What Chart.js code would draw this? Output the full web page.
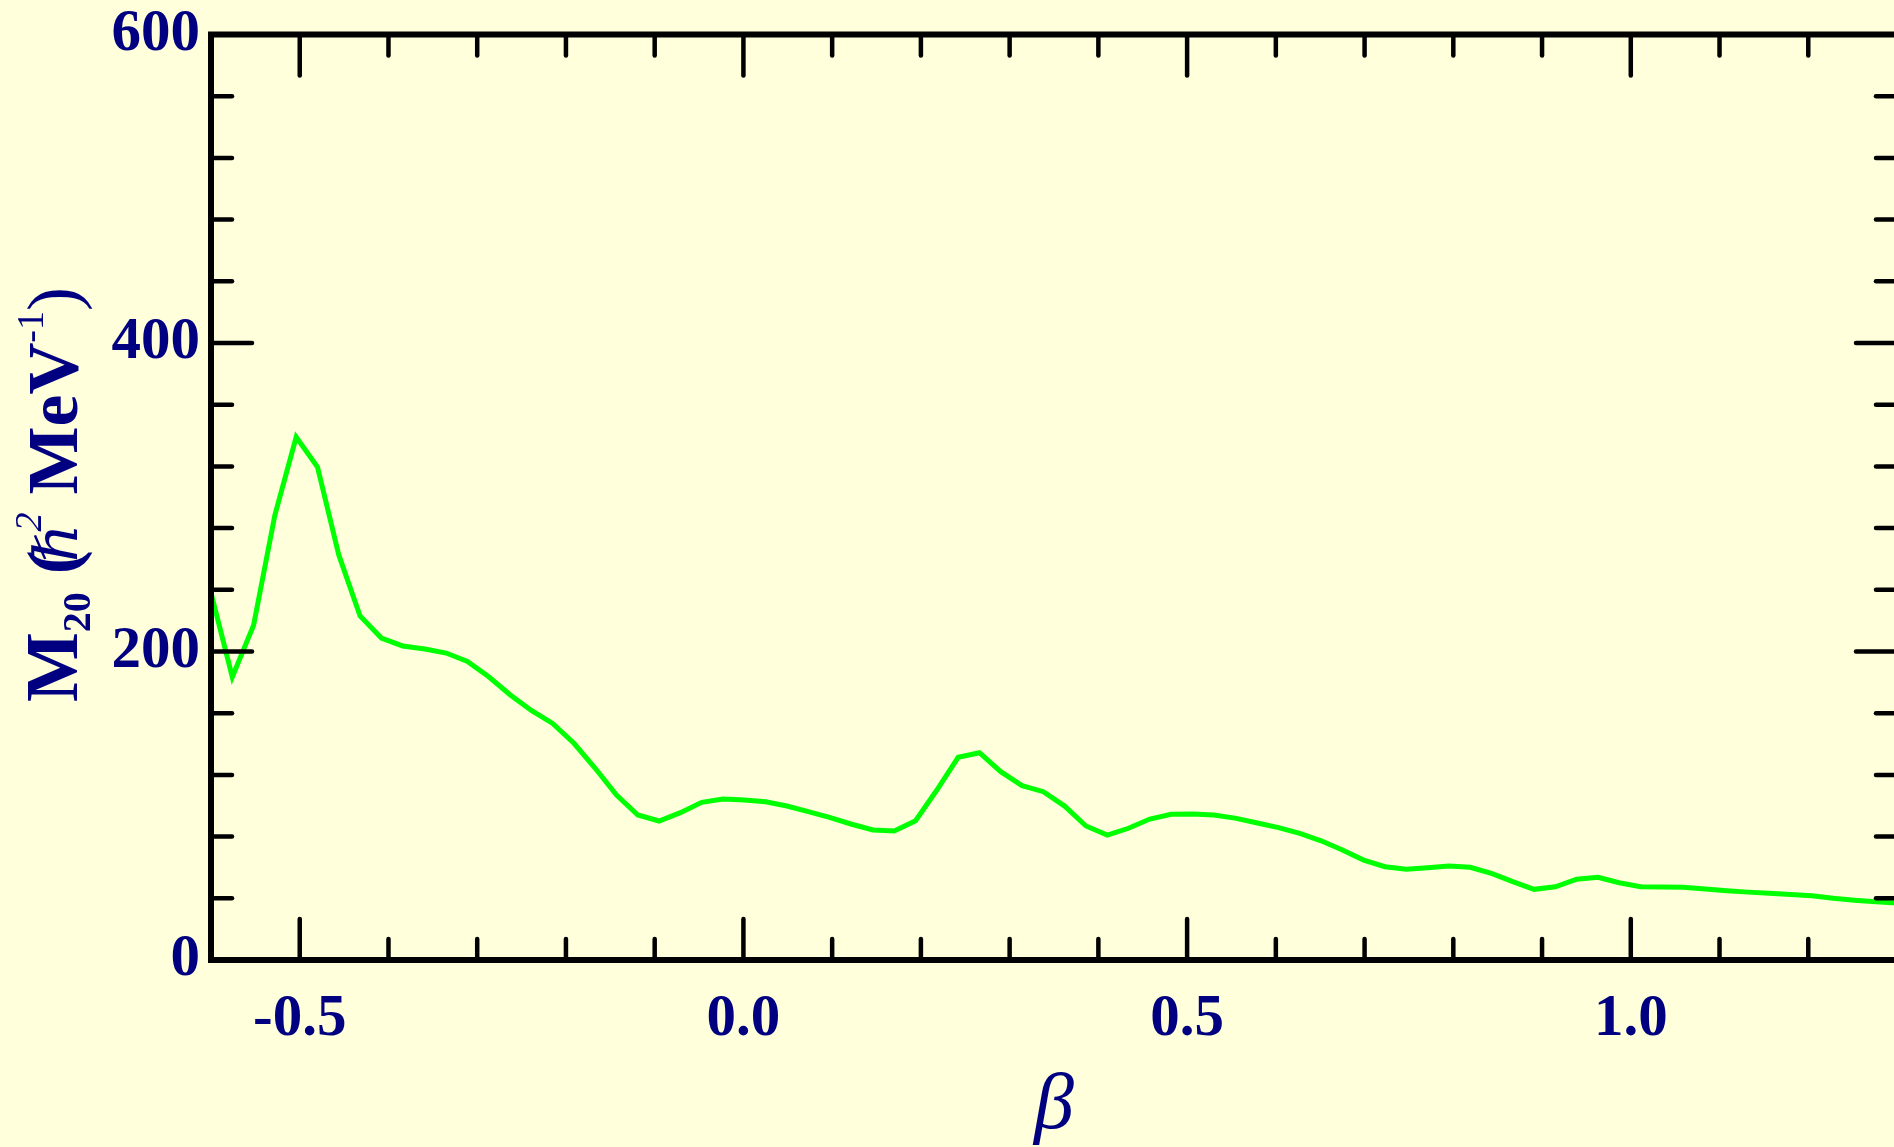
<!DOCTYPE html>
<html>
<head>
<meta charset="utf-8">
<script src="https://cdn.jsdelivr.net/npm/chart.js@4.4.0/dist/chart.umd.min.js"></script>
<style>
  html, body { margin: 0; padding: 0; overflow: hidden; background: #ffffdc; }
  #m20Chart { display: block; width: 1900px; height: 1147px; }
</style>
</head>
<body>
<canvas id="m20Chart" width="1900" height="1147"></canvas>
<script>
// beta (deformation) values
var betaValues = [
  -0.600, -0.576, -0.552, -0.528, -0.504, -0.480, -0.456, -0.432, -0.408, -0.384,
  -0.359, -0.335, -0.311, -0.287, -0.263, -0.239, -0.215, -0.191, -0.167, -0.143,
  -0.119, -0.095, -0.071, -0.047, -0.023, 0.001, 0.025, 0.049, 0.073, 0.097,
  0.122, 0.146, 0.170, 0.194, 0.218, 0.242, 0.266, 0.290, 0.314, 0.338,
  0.362, 0.386, 0.410, 0.434, 0.458, 0.482, 0.506, 0.530, 0.554, 0.578,
  0.603, 0.627, 0.651, 0.675, 0.699, 0.723, 0.747, 0.771, 0.795, 0.819,
  0.843, 0.867, 0.891, 0.915, 0.939, 0.963, 0.987, 1.011, 1.035, 1.059,
  1.084, 1.108, 1.132, 1.156, 1.180, 1.204, 1.228, 1.252, 1.276, 1.300
];

// M20 moment of inertia values
var m20Values = [
  238, 183.5, 217, 288.5, 339, 319.6, 262.6, 223, 208.7, 203.6,
  201.6, 199, 193.6, 183.6, 172, 161.8, 153.4, 140.5, 124.3, 107,
  94, 90.1, 95.5, 102.2, 104.4, 103.7, 102.6, 99.8, 96.2, 92.5,
  88, 84.3, 83.6, 90.3, 110.2, 131.4, 134.4, 122.1, 113, 109.1,
  99.8, 86.9, 81, 85.4, 91.4, 94.5, 94.7, 94, 92, 89,
  85.8, 82.1, 77.3, 71.3, 64.8, 60.5, 58.8, 59.8, 60.9, 60.1,
  56.2, 50.8, 45.8, 47.5, 52.4, 53.6, 50.1, 47.5, 47.3, 47.1,
  46, 44.9, 44, 43.2, 42.5, 41.7, 40, 38.8, 37.8, 37
];

var xTickLabels = ['-0.5', '0.0', '0.5', '1.0'];
var yTickLabels = ['0', '200', '400', '600'];

var navy = '#000080';

// inward ticks on all four sides plus the box
var framePlugin = {
  id: 'frame',
  afterDatasetsDraw: function (chart) {
    var ctx = chart.ctx, a = chart.chartArea;
    var xs = chart.scales.x, ys = chart.scales.y;
    function seg(x1, y1, x2, y2) {
      ctx.beginPath(); ctx.moveTo(x1, y1); ctx.lineTo(x2, y2); ctx.stroke();
    }
    ctx.save();
    ctx.strokeStyle = '#000';
    ctx.lineWidth = 4.5;
    ctx.lineCap = 'round';
    xs.ticks.forEach(function (t) {
      var px = xs.getPixelForValue(t.value);
      var len = t.label ? 41 : 21;
      seg(px, a.bottom, px, a.bottom - len);
      seg(px, a.top, px, a.top + len);
    });
    ys.ticks.forEach(function (t) {
      var py = ys.getPixelForValue(t.value);
      var len = t.label ? 41 : 21;
      seg(a.left, py, a.left + len, py);
      seg(a.right, py, a.right - len, py);
    });
    ctx.lineCap = 'butt';
    ctx.lineJoin = 'miter';
    ctx.lineWidth = 6;
    ctx.strokeRect(a.left, a.top, a.right - a.left, a.bottom - a.top);
    ctx.restore();
  }
};

// rotated y title with sub/superscripts
var yTitlePlugin = {
  id: 'yTitle',
  afterDraw: function (chart) {
    var ctx = chart.ctx;
    var parts = [
      { t: 'M', f: 'bold 74px "Liberation Serif"', dy: 0, dx: 0 },
      { t: '20', f: 'bold 40px "Liberation Serif"', dy: 13, dx: 0 },
      { t: ' (', f: 'bold 72px "Liberation Serif"', dy: 0, dx: 0 },
      { t: '\u210F', f: 'italic 60px "DejaVu Serif"', dy: 0, dx: -12 },
      { t: '2', f: 'italic 38px "Liberation Serif"', dy: -36, dx: -8 },
      { t: ' MeV', f: 'bold 72px "Liberation Serif"', dy: 0, dx: 0 },
      { t: '-1', f: '38px "Liberation Serif"', dy: -34, dx: 0 },
      { t: ')', f: '72px "Liberation Serif"', dy: 0, dx: 0 }
    ];
    ctx.save();
    ctx.translate(77, 702);
    ctx.rotate(-Math.PI / 2);
    ctx.fillStyle = navy;
    ctx.textBaseline = 'alphabetic';
    ctx.textAlign = 'left';
    var x = 0;
    parts.forEach(function (p) {
      ctx.font = p.f;
      x += p.dx;
      ctx.fillText(p.t, x, p.dy);
      x += ctx.measureText(p.t).width;
    });
    ctx.restore();
  }
};

var points = betaValues.map(function (b, i) { return { x: b, y: m20Values[i] }; });

var ctx = document.getElementById('m20Chart').getContext('2d');
var m20Chart = new Chart(ctx, {
  type: 'line',
  data: {
    datasets: [{
      data: points,
      borderColor: '#00ff00',
      borderWidth: 5,
      pointRadius: 0,
      fill: false,
      tension: 0
    }]
  },
  options: {
    responsive: false,
    animation: false,
    devicePixelRatio: 1,
    layout: { padding: { top: 34.5, right: 3, left: 0, bottom: 0 } },
    plugins: {
      legend: { display: false },
      tooltip: { enabled: false }
    },
    scales: {
      x: {
        type: 'linear',
        min: -0.6,
        max: 1.3,
        grid: { display: false, drawTicks: false },
        border: { display: false },
        ticks: {
          stepSize: 0.1,
          autoSkip: false,
          maxRotation: 0,
          padding: 30,
          color: navy,
          font: { family: 'Liberation Serif', weight: 'bold', size: 59, lineHeight: 1 },
          callback: function (v) {
            var s = (Math.round(v * 10) / 10 + 0).toFixed(1);
            return xTickLabels.indexOf(s) >= 0 ? s : '';
          }
        },
        title: {
          display: true,
          text: '\u03B2',
          color: navy,
          font: { family: 'Liberation Serif', style: 'italic', size: 80, lineHeight: 1 },
          padding: { top: 0, bottom: 0 }
        },
        afterFit: function (s) { s.height = 187; s.paddingLeft = 0; s.paddingRight = 0; }
      },
      y: {
        min: 0,
        max: 600,
        grid: { display: false, drawTicks: false },
        border: { display: false },
        ticks: {
          stepSize: 40,
          autoSkip: false,
          padding: 11,
          color: navy,
          font: { family: 'Liberation Serif', weight: 'bold', size: 59, lineHeight: 1 },
          callback: function (v) {
            var s = String(Math.round(v));
            return yTickLabels.indexOf(s) >= 0 ? s : '';
          }
        },
        afterFit: function (s) { s.width = 211; s.paddingTop = 0; s.paddingBottom = 0; }
      }
    }
  },
  plugins: [framePlugin, yTitlePlugin]
});
</script>
</body>
</html>
